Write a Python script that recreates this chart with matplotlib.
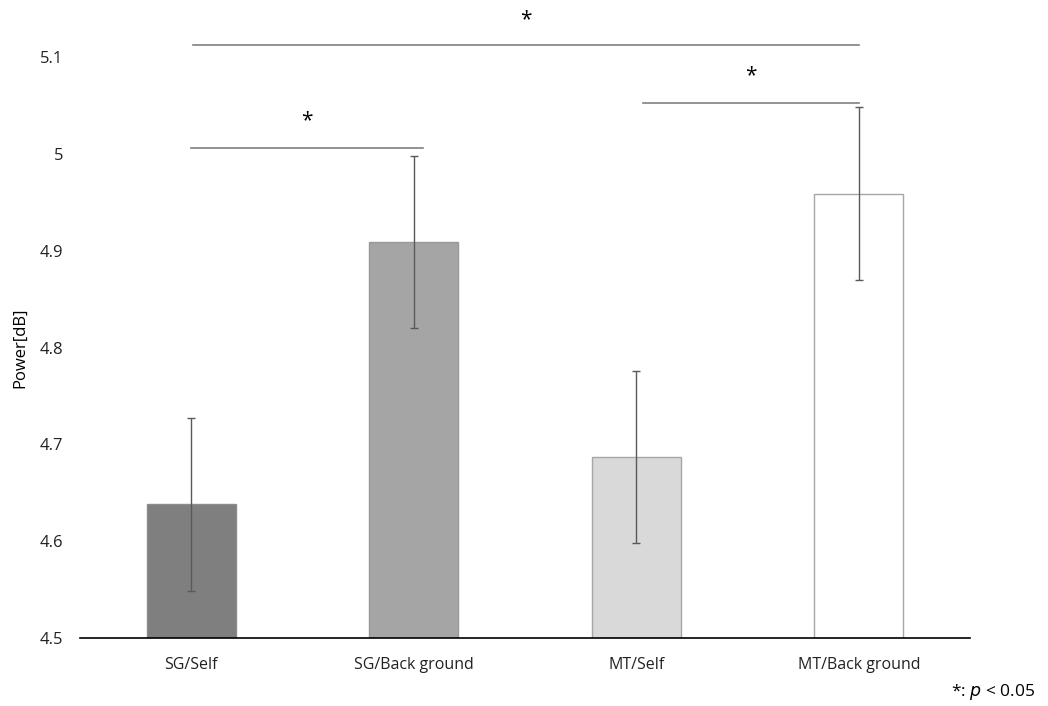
import numpy as np
import matplotlib.pyplot as plt

plt.rcParams['font.family'] = ['Open Sans', 'DejaVu Sans']

# values
labels = ['SG/Self', 'SG/Back ground', 'MT/Self', 'MT/Back ground']
means = [4.638, 4.909, 4.687, 4.959]
errs = [0.089, 0.089, 0.089, 0.089]
colors = ['#7f7f7f', '#a5a5a5', '#d9d9d9', '#ffffff']
edges = ['#8c8c8c', '#999999', '#a6a6a6', '#a6a6a6']

# significance brackets: (x start, x end, line y, star y)
sig = [(0.01, 3.0, 5.112, 5.138),
       (2.03, 3.0, 5.053, 5.081),
       (0.0, 1.04, 5.006, 5.034)]

fig = plt.figure(figsize=(10.48, 7.06), dpi=100)
ax = fig.add_axes([80/1048, 1-638/706, 890/1048, 581/706])

x = np.arange(len(labels))
ax.bar(x, np.array(means) - 4.5, bottom=4.5, width=0.4, color=colors,
       edgecolor=edges, linewidth=1)
ax.errorbar(x, means, yerr=errs, fmt='none', ecolor='#595959',
            elinewidth=1, capsize=3, capthick=1)

for x0, x1, ly, sy in sig:
    ax.plot([x0, x1], [ly, ly], color='#808080', lw=1.2, clip_on=False)
    ax.text((x0 + x1) / 2, sy, '*', ha='center', va='center', fontsize=15,
            clip_on=False)

ax.set_xlim(-0.5, 3.5)
ax.set_ylim(4.5, 5.1)
ax.set_yticks([4.5, 4.6, 4.7, 4.8, 4.9, 5.0, 5.1])
ax.set_yticklabels(['4.5', '4.6', '4.7', '4.8', '4.9', '5', '5.1'])
ax.set_xticks(x)
ax.set_xticklabels(labels)
ax.tick_params(axis='both', length=0, labelsize=11.5, colors='#222222')
ax.tick_params(axis='y', labelsize=12, pad=12)
ax.tick_params(axis='x', pad=14)
for s in ['top', 'right', 'left']:
    ax.spines[s].set_visible(False)
ax.spines['bottom'].set_color('black')
ax.spines['bottom'].set_linewidth(1.2)

ax.set_ylabel('Power[dB]', fontsize=12)
ax.yaxis.set_label_coords(-52/890, 0.5)

fig.text(1035/1048, 1-692/706, r'*: $\it{p}$ < 0.05', ha='right', va='center',
         fontsize=12.5)

fig.savefig('out.png', dpi=100)
